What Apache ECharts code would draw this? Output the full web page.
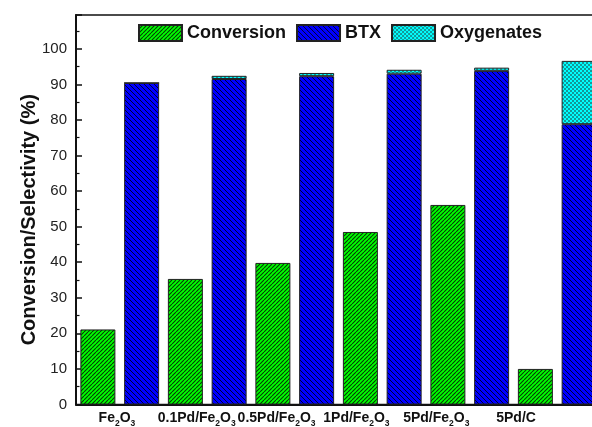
<!DOCTYPE html>
<html>
<head>
<meta charset="utf-8">
<script src="https://cdn.jsdelivr.net/npm/echarts@6/dist/echarts.min.js"></script>
<style>
  html, body { margin: 0; padding: 0; background: #fff; }
  #chart { width: 592px; height: 427px; }
</style>
</head>
<body>
<div id="chart"></div>
<script>
// Catalysts and measured values (%)
const categories = ['Fe2O3', '0.1Pd/Fe2O3', '0.5Pd/Fe2O3', '1Pd/Fe2O3', '5Pd/Fe2O3', '5Pd/C'];
const conversion = [21.1, 35.3, 39.8, 48.5, 56.1, 10.0];
const btx = [90.4, 91.5, 92.3, 93.0, 93.8, 78.8];
const oxygenates = [0, 0.9, 0.9, 1.1, 0.9, 17.8];
const seriesNames = ['Conversion', 'BTX', 'Oxygenates'];
const yMin = 0, yMax = 109.5, yStep = 10;

// Hatched fills drawn into small repeating canvas tiles
function stripeTile(bg, line, period, width, dir) {
  const c = document.createElement('canvas');
  c.width = c.height = period;
  const g = c.getContext('2d');
  g.fillStyle = bg;
  g.fillRect(0, 0, period, period);
  g.strokeStyle = line;
  g.lineWidth = width;
  g.beginPath();
  for (let k = -1; k <= 1; k++) {
    if (dir === '/') {
      g.moveTo(k * period, period);
      g.lineTo(k * period + period, 0);
    } else {
      g.moveTo(k * period, 0);
      g.lineTo(k * period + period, period);
    }
  }
  g.stroke();
  return c;
}
function checkerTile(bg, dot) {
  const c = document.createElement('canvas');
  c.width = c.height = 4;
  const g = c.getContext('2d');
  g.fillStyle = bg;
  g.fillRect(0, 0, 4, 4);
  g.fillStyle = dot;
  g.fillRect(0, 0, 2, 2);
  g.fillRect(2, 2, 2, 2);
  return c;
}
const greenFill = { image: stripeTile('#00ff00', '#063806', 4, 1.1, '/'), repeat: 'repeat' };
const blueFill = { image: stripeTile('#0000ff', '#000033', 5, 1, '\\'), repeat: 'repeat' };
const cyanFill = { image: checkerTile('#00ffff', '#129898'), repeat: 'repeat' };

// Chemical formulas with subscript digits (Fe2O3 -> Fe₂O₃)
function subLabel(v) {
  return v.split(/(Fe2|O3)/).filter(s => s).map(s => {
    if (s === 'Fe2') return '{b|Fe}{s|2}';
    if (s === 'O3') return '{b|O}{s|3}';
    return '{b|' + s + '}';
  }).join('');
}

const chart = echarts.init(document.getElementById('chart'), null, { renderer: 'canvas' });
const barStyle = (fill) => ({ color: fill, borderColor: '#222', borderWidth: 1 });
const FONT = 'Liberation Sans, Arial, sans-serif';

chart.setOption({
  animation: false,
  backgroundColor: '#fff',
  textStyle: { fontFamily: FONT },
  legend: {
    data: seriesNames,
    icon: 'rect',
    left: 138,
    top: 24,
    padding: 0,
    itemWidth: 43,
    itemHeight: 16,
    itemGap: 10,
    textStyle: { fontSize: 18, fontWeight: 'bold', color: '#111', fontFamily: FONT }
  },
  grid: [
    { left: 76, top: 15, width: 525, bottom: 22.5, outerBoundsMode: 'none', containLabel: false,
      show: true, borderColor: '#111', borderWidth: 1.5, backgroundColor: 'transparent' },
    { left: 77, top: 15, width: 479, bottom: 22.5, outerBoundsMode: 'none', containLabel: false }
  ],
  xAxis: [
    {
      type: 'category', gridIndex: 0, data: categories,
      axisLine: { lineStyle: { color: '#111', width: 2 } },
      axisTick: { show: false },
      axisLabel: { show: false }
    },
    {
      type: 'category', gridIndex: 1, data: categories, position: 'bottom',
      axisLine: { show: false }, axisTick: { show: false },
      axisLabel: {
        interval: 0,
        margin: 7,
        formatter: subLabel,
        rich: {
          b: { fontSize: 14, fontWeight: 'bold', color: '#111', fontFamily: FONT, verticalAlign: 'top', lineHeight: 16 },
          s: { fontSize: 8.5, fontWeight: 'bold', color: '#111', fontFamily: FONT, verticalAlign: 'top', lineHeight: 9, padding: [8, 0, 0, 0] }
        }
      }
    }
  ],
  yAxis: [
    {
      type: 'value', gridIndex: 0, min: yMin, max: yMax, interval: yStep,
      name: 'Conversion/Selectivity (%)',
      nameLocation: 'middle',
      nameGap: 37,
      nameMoveOverlap: false,
      nameTextStyle: { fontSize: 20, fontWeight: 'bold', color: '#111', padding: [0, 20, 0, 0], fontFamily: FONT },
      axisLine: { show: true, lineStyle: { color: '#111', width: 2 } },
      axisTick: { show: true, inside: true, length: 6, lineStyle: { color: '#111', width: 1.5 } },
      minorTick: { show: true, splitNumber: 2, length: 3.5, lineStyle: { color: '#111', width: 1.2 } },
      splitLine: { show: false },
      axisLabel: { fontSize: 15, color: '#222', margin: 9, showMaxLabel: false }
    },
    { type: 'value', gridIndex: 1, min: yMin, max: yMax, show: false }
  ],
  series: [
    {
      name: seriesNames[0], type: 'bar', xAxisIndex: 0, yAxisIndex: 0,
      data: conversion, barWidth: 35, barGap: '25%',
      itemStyle: barStyle(greenFill)
    },
    {
      name: seriesNames[1], type: 'bar', stack: 'sel', xAxisIndex: 0, yAxisIndex: 0,
      data: btx, barWidth: 35,
      itemStyle: barStyle(blueFill)
    },
    {
      name: seriesNames[2], type: 'bar', stack: 'sel', xAxisIndex: 0, yAxisIndex: 0,
      data: oxygenates, barWidth: 35,
      itemStyle: barStyle(cyanFill)
    }
  ]
});
</script>
</body>
</html>
